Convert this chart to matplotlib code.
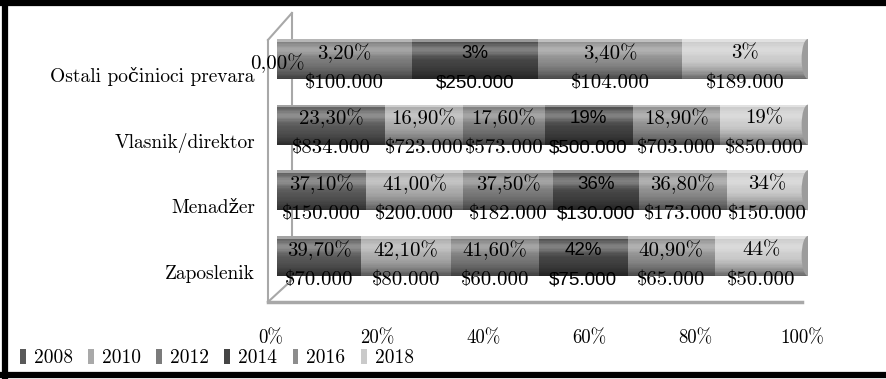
import numpy as np
import matplotlib.pyplot as plt
from matplotlib.patches import Ellipse
from matplotlib.lines import Line2D
from matplotlib.transforms import ScaledTranslation

plt.rcParams['font.family'] = ['cmr10', 'DejaVu Serif']
plt.rcParams['font.size'] = 14
plt.rcParams['axes.unicode_minus'] = False

categories = ['Zaposlenik', 'Menadžer', 'Vlasnik/direktor', 'Ostali počinioci prevara']
years = ['2008', '2010', '2012', '2014', '2016', '2018']

# share of cases per year (%), same order as categories
p2008 = [39.70, 37.10, 23.30, 0.00]
p2010 = [42.10, 41.00, 16.90, np.nan]
p2012 = [41.60, 37.50, 17.60, 3.20]
p2014 = [42, 36, 19, 3]
p2016 = [40.90, 36.80, 18.90, 3.40]
p2018 = [44, 34, 19, 3]

# median loss per year ($)
l2008 = [70000, 150000, 834000, np.nan]
l2010 = [80000, 200000, 723000, np.nan]
l2012 = [60000, 182000, 573000, 100000]
l2014 = [75000, 130000, 500000, 250000]
l2016 = [65000, 173000, 703000, 104000]
l2018 = [50000, 150000, 850000, 189000]

decimals = [2, 2, 2, 0, 2, 0]
colors = ['#595959', '#a9a9a9', '#7b7b7b', '#454545', '#8d8d8d', '#cacaca']

pct = np.array([p2008, p2010, p2012, p2014, p2016, p2018])
loss = np.array([l2008, l2010, l2012, l2014, l2016, l2018])
share = np.nan_to_num(pct) / np.nansum(pct, axis=0)

serif = dict(family=['cmr10', 'DejaVu Serif'], fontsize=15)
sans = dict(family=['Liberation Sans', 'DejaVu Sans'], fontsize=13.5)

fig = plt.figure(figsize=(8.86, 3.79), dpi=100)
ax = fig.add_axes([277 / 886, 0.1946, 531 / 886, 0.7797])
ax.set_xlim(0, 1)
ax.set_ylim(-0.75, 3.75)

y = np.arange(len(categories))
bh = 0.61

# 3D frame: side wall and floor
frame = [((-0.017, -0.017), (-0.7, 3.29)),
         ((-0.017, 0.028), (3.29, 3.70)),
         ((0.028, 0.028), (3.70, -0.365)),
         ((0.028, -0.017), (-0.365, -0.7))]
for xs, ys in frame:
    ax.add_line(Line2D(xs, ys, color='#a8a8a8', lw=1.5, zorder=1, clip_on=False))
ax.add_line(Line2D((-0.017, 0.989), (-0.7, -0.7), color='#a8a8a8', lw=2.5,
                   zorder=1, clip_on=False))

left = np.zeros(len(categories))
for i, yr in enumerate(years):
    ax.barh(y, share[i], left=left, height=bh, color=colors[i], label=yr,
            lw=0, zorder=2)
    font = sans if yr == '2014' else serif
    for j in range(len(categories)):
        if np.isnan(pct[i, j]):
            continue
        xc = left[j] + share[i, j] / 2
        ptxt = f'{pct[i, j]:.{decimals[i]}f}%'.replace('.', ',')
        if np.isnan(loss[i, j]):
            ax.text(xc, y[j] - 0.06, ptxt, ha='center', va='center',
                    zorder=6, **font)
            continue
        ltxt = '$' + f'{loss[i, j]:,.0f}'.replace(',', '.')
        ax.text(xc, y[j] + 0.09, ptxt, ha='center', va='center', zorder=6, **font)
        ax.text(xc, y[j] - 0.36, ltxt, ha='center', va='center', zorder=6, **font)
    left += share[i]

# cylinder shading over each bar
n = 30
for k in range(n):
    t = (k + 0.5) / n
    hi = 0.32 * np.exp(-((t - 0.27) / 0.15) ** 2)
    if t < 0.07:
        hi = 0.45
    lo = 0.5 * max(0.0, (t - 0.5) / 0.5) ** 1.6
    s = hi - lo
    ax.barh(y + bh / 2 - t * bh, left, height=bh / n, color='white' if s > 0 else 'black',
            alpha=abs(s), lw=0, zorder=3)
for j in y:
    ax.add_patch(Ellipse((left[j], j), 0.024, bh, color='#9c9c9c', lw=0, zorder=4))

for s in ax.spines.values():
    s.set_visible(False)
ax.set_yticks(y, categories)
ax.set_xticks(np.linspace(0, 1, 6), [f'{v}%' for v in range(0, 101, 20)])
ax.tick_params(length=0)
ax.tick_params(axis='y', pad=16, labelsize=14)
ax.tick_params(axis='x', pad=17, labelsize=13.5)
for lab in ax.get_yticklabels():
    lab.set_transform(lab.get_transform() + ScaledTranslation(0, -0.16, fig.dpi_scale_trans))
for lab in ax.get_xticklabels():
    lab.set_transform(lab.get_transform() + ScaledTranslation(-0.06, 0, fig.dpi_scale_trans))

fig.legend(loc='center left', bbox_to_anchor=(20 / 886, 21 / 379), ncol=6,
           frameon=False, handlelength=0.3, handleheight=0.8, handletextpad=0.4,
           columnspacing=0.8, borderpad=0, borderaxespad=0, fontsize=14)

# outer border
for xs, ys in [((0.006, 0.006), (0, 1)), ((0, 1), (0.992, 0.992)), ((0, 1), (0.011, 0.011))]:
    fig.add_artist(Line2D(xs, ys, color='black', lw=4.5))

fig.savefig('out.png', dpi=100)
